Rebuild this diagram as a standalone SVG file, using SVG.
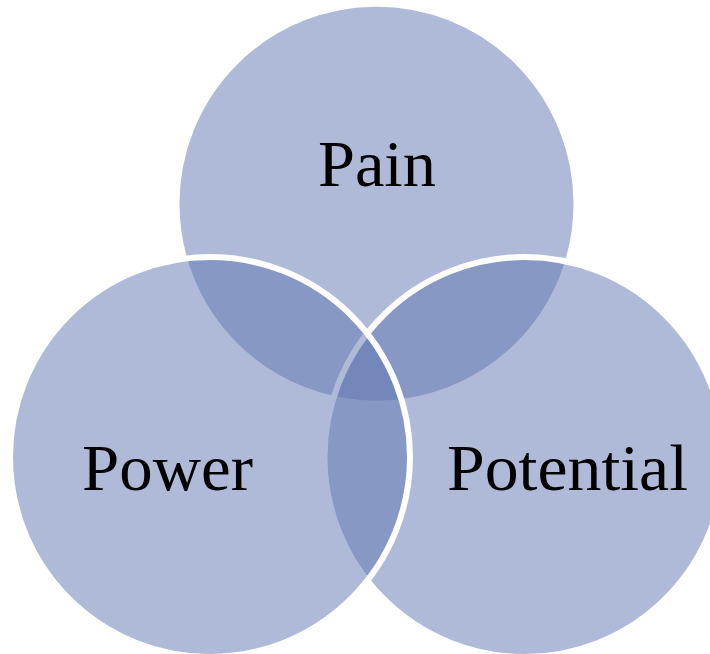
<svg xmlns="http://www.w3.org/2000/svg" width="710" height="654" viewBox="0 0 710 654">
<style>
.c{fill:#5F75B1;fill-opacity:0.5;stroke:#FFFFFF;stroke-width:6}
.t{font-family:"Liberation Serif","Times New Roman",serif;font-size:66px;fill:#000000;text-anchor:middle}
</style>
<rect width="710" height="654" fill="#FFFFFF"/>
<g id="pain">
<circle class="c" cx="376.5" cy="203.7" r="200"/>
<text class="t" x="377" y="186" textLength="118" lengthAdjust="spacingAndGlyphs">Pain</text>
</g>
<g id="potential">
<circle class="c" cx="524.5" cy="457" r="200"/>
<text class="t" x="567.5" y="490" textLength="241" lengthAdjust="spacingAndGlyphs">Potential</text>
</g>
<g id="power">
<circle class="c" cx="210" cy="457" r="200"/>
<text class="t" x="167.5" y="490" textLength="171" lengthAdjust="spacingAndGlyphs">Power</text>
</g>
</svg>
